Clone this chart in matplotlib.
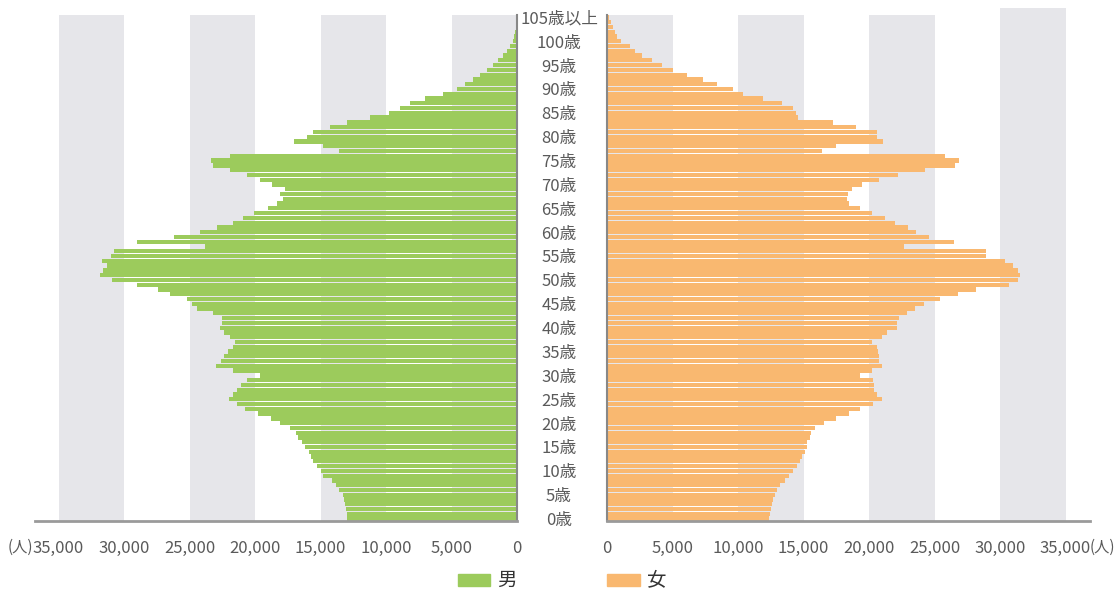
import matplotlib
matplotlib.use("Agg")
import matplotlib.pyplot as plt
import matplotlib.transforms as mtransforms
from matplotlib.patches import Rectangle

plt.rcParams['font.family'] = ['Noto Sans CJK JP', 'DejaVu Sans']

# ages 0 .. 105 (105 = 105歳以上)
ages = list(range(106))

male = [
    12950, 13000, 13050, 13100, 13200, 13300, 13600, 13800, 14100, 14800,   # 0-9
    15000, 15300, 15600, 15700, 15900, 16200, 16400, 16700, 16900, 17300,   # 10-19
    18100, 18800, 19800, 20800, 21400, 22000, 21700, 21400, 21100, 20600,   # 20-29
    19600, 21700, 23000, 22600, 22400, 22100, 21700, 21500, 21900, 22400,   # 30-39
    22700, 22500, 22500, 23200, 24400, 24800, 25200, 26500, 27400, 29000,   # 40-49
    30900, 31800, 31600, 31300, 31700, 31000, 30800, 23800, 29000, 26200,   # 50-59
    24200, 22900, 21700, 20900, 20100, 19000, 18300, 17900, 18100, 17700,   # 60-69
    18700, 19600, 20600, 21900, 23200, 23400, 21900, 13600, 14800, 17000,   # 70-79
    16000, 15600, 14300, 13000, 11200, 9800, 8900, 8150, 7000, 5650,        # 80-89
    4600, 4000, 3350, 2800, 2300, 1850, 1450, 1100, 800, 550,               # 90-99
    300, 200, 150, 100, 60, 40,                                             # 100-105
]

female = [
    12400, 12450, 12500, 12600, 12700, 12800, 13000, 13200, 13600, 13900,   # 0-9
    14200, 14500, 14700, 14900, 15100, 15250, 15300, 15500, 15600, 15900,   # 10-19
    16600, 17500, 18500, 19300, 20300, 21000, 20600, 20400, 20400, 20300,   # 20-29
    19300, 20200, 21000, 20800, 20800, 20700, 20600, 20200, 21000, 21400,   # 30-39
    22100, 22100, 22300, 22900, 23500, 24200, 25400, 26800, 28200, 30700,   # 40-49
    31400, 31500, 31400, 31000, 30400, 28900, 28900, 22700, 26500, 24600,   # 50-59
    23600, 23000, 22000, 21200, 20200, 19300, 18450, 18300, 18400, 18700,   # 60-69
    19500, 20800, 22200, 24300, 26600, 26900, 25800, 16400, 17500, 21100,   # 70-79
    20600, 20600, 19000, 17250, 14600, 14400, 14200, 13350, 11900, 10400,   # 80-89
    9600, 8400, 7350, 6100, 5050, 4200, 3400, 2650, 2100, 1750,             # 90-99
    1100, 800, 600, 450, 300, 150,                                          # 100-105
]

tick_values = [0, 5000, 10000, 15000, 20000, 25000, 30000, 35000]
tick_labels = ['0', '5,000', '10,000', '15,000', '20,000', '25,000', '30,000', '35,000']
age_ticks = list(range(0, 106, 5))
age_labels = [f'{a}歳' for a in range(0, 105, 5)] + ['105歳以上']

green = '#9ccb5c'
orange = '#f9b870'
band = '#e6e6ea'
text_c = '#5a5a5a'

W, H = 1116, 590
fig = plt.figure(figsize=(W / 100, H / 100), dpi=100)

axL = fig.add_axes([35 / W, (H - 521) / H, 482 / W, 506 / H])
axR = fig.add_axes([607 / W, (H - 521) / H, 483 / W, 506 / H])

for ax in (axL, axR):
    ax.set_ylim(-0.5, 105.5)
    ax.set_yticks([])
    ax.set_xticks(tick_values)
    ax.set_xticklabels(tick_labels, fontsize=12, color=text_c)
    ax.tick_params(axis='x', length=0, pad=14)
    ax.spines['top'].set_visible(False)
    ax.spines['bottom'].set_color('#9a9a9a')
    ax.spines['bottom'].set_linewidth(2)
    ax.patch.set_alpha(0)

axL.set_xlim(36800, 0)
axR.set_xlim(0, 36870)

axL.spines['left'].set_visible(False)
axL.spines['right'].set_color('#888888')
axL.spines['right'].set_linewidth(1.5)
axR.spines['right'].set_visible(False)
axR.spines['left'].set_color('#888888')
axR.spines['left'].set_linewidth(1.5)

# grey bands behind the bars
for lo in (0, 10000, 20000, 30000):
    axL.axvspan(lo, lo + 5000, color=band, lw=0, zorder=0)
for lo in (0, 10000, 20000):
    axR.axvspan(lo, lo + 5000, color=band, lw=0, zorder=0)
axR.axvspan(30000, 35000, ymin=0, ymax=1 + 7 / 506, color=band, lw=0, zorder=0, clip_on=False)

axL.barh(ages, male, height=0.9, color=green, zorder=2)
axR.barh(ages, female, height=0.9, color=orange, zorder=2)

# age labels in the middle
trans = mtransforms.blended_transform_factory(fig.transFigure, axL.transData)
for a, lab in zip(age_ticks, age_labels):
    fig.text(559 / W, a - 0.4, lab, transform=trans, ha='center', va='center',
             fontsize=12, color=text_c)

fig.text(20 / W, (H - 547) / H, '(人)', ha='center', va='center', fontsize=11, color=text_c)
fig.text(1102 / W, (H - 547) / H, '(人)', ha='center', va='center', fontsize=11, color=text_c)

# legend
fig.patches.append(Rectangle((458 / W, (H - 586) / H), 32 / W, 12 / H,
                             transform=fig.transFigure, color=green))
fig.text(497 / W, (H - 580) / H, '男', ha='left', va='center', fontsize=14, color='#333333')
fig.patches.append(Rectangle((607 / W, (H - 586) / H), 33 / W, 12 / H,
                             transform=fig.transFigure, color=orange))
fig.text(647 / W, (H - 580) / H, '女', ha='left', va='center', fontsize=14, color='#333333')

fig.savefig('out.png', dpi=100)
